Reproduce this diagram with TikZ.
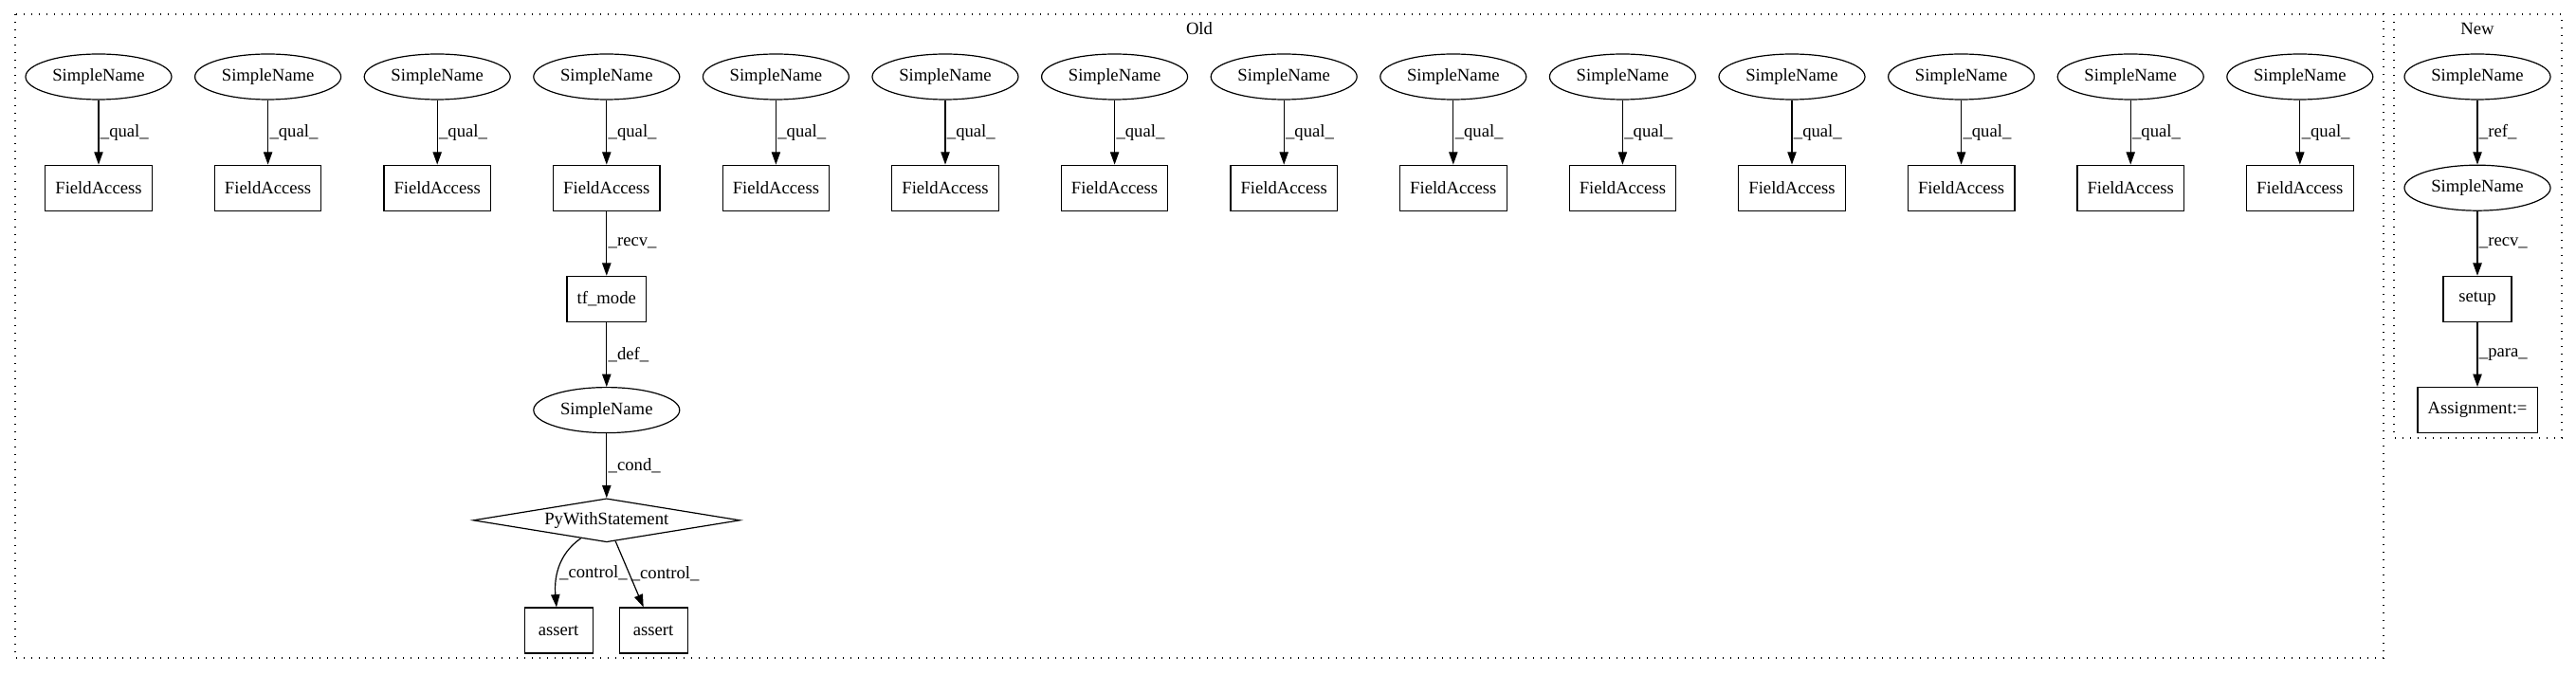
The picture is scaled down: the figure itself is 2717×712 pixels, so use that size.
\documentclass[tikz,border=0pt]{standalone}
\usepackage{fontspec}
\setmainfont{Liberation Serif}
\usetikzlibrary{positioning,shapes.geometric,arrows.meta}

\begin{document}
\begin{tikzpicture}[x=0.75pt, y=-0.75pt, node distance=51pt,
  font=\fontsize{14pt}{16pt}\selectfont,
  namenode/.style={ellipse, draw, line width=0.9pt, minimum width=115.5pt, minimum height=36pt, inner sep=0pt},
  opbox/.style={rectangle, draw, line width=0.9pt, minimum width=54pt, minimum height=36pt, inner xsep=8pt, inner ysep=0pt},
  condbox/.style={diamond, draw, line width=0.9pt, aspect=6, inner sep=0pt, minimum width=211pt, minimum height=34.5pt},
  dep/.style={-{Triangle[length=10pt,width=7pt]}, line width=0.9pt},
  lbl/.style={anchor=west, inner sep=1pt},
  cluster/.style={dash pattern=on 1pt off 5pt, line width=1pt}]
  \useasboundingbox (0,0) rectangle (2717,712);

  % Cluster frames
  \draw [cluster] (16,15) rectangle (2514,694);
  \draw [cluster] (2525,15) rectangle (2702,462);
  \node (oldtitle) at (1265,30) {Old};
  \node (newtitle) at (2613,30) {New};

  % Old: qualifier pairs
  \foreach \i in {0,...,13} {
    \node (sn\i) [namenode] at ({104+178.6*\i},81) {SimpleName};
    \node (fa\i) [opbox, below=of sn\i] {FieldAccess};
    \draw [dep] (sn\i) -- node [lbl] {\_qual\_} (fa\i);
  }

  % Old: chain under the fourth field access
  \node (tfmode) [opbox, below=of fa3] {tf\_mode};
  \node (condname) [namenode, below=of tfmode] {SimpleName};
  \node (pywith) [condbox, below=of condname] {PyWithStatement};
  \node (assertl) [opbox, below=of pywith, xshift=-38pt] {assert};
  \node (assertr) [opbox, below=of pywith, xshift=37pt] {assert};

  \draw [dep] (fa3) -- node [lbl] {\_recv\_} (tfmode);
  \draw [dep] (tfmode) -- node [lbl] {\_def\_} (condname);
  \draw [dep] (condname) -- node [lbl] {\_cond\_} (pywith);
  \draw [dep] (pywith) to [out=215, in=95] node [lbl, pos=0.57] {\_control\_} (assertl);
  \draw [dep] (pywith) -- node [lbl] {\_control\_} (assertr);

  % New
  \node (newref) [namenode] at (2613,81) {SimpleName};
  \node (newrecv) [namenode, below=of newref] {SimpleName};
  \node (setup) [opbox, below=of newrecv] {setup};
  \node (assign) [opbox, below=of setup] {Assignment:=};

  \draw [dep] (newref) -- node [lbl] {\_ref\_} (newrecv);
  \draw [dep] (newrecv) -- node [lbl] {\_recv\_} (setup);
  \draw [dep] (setup) -- node [lbl] {\_para\_} (assign);
\end{tikzpicture}
\end{document}
